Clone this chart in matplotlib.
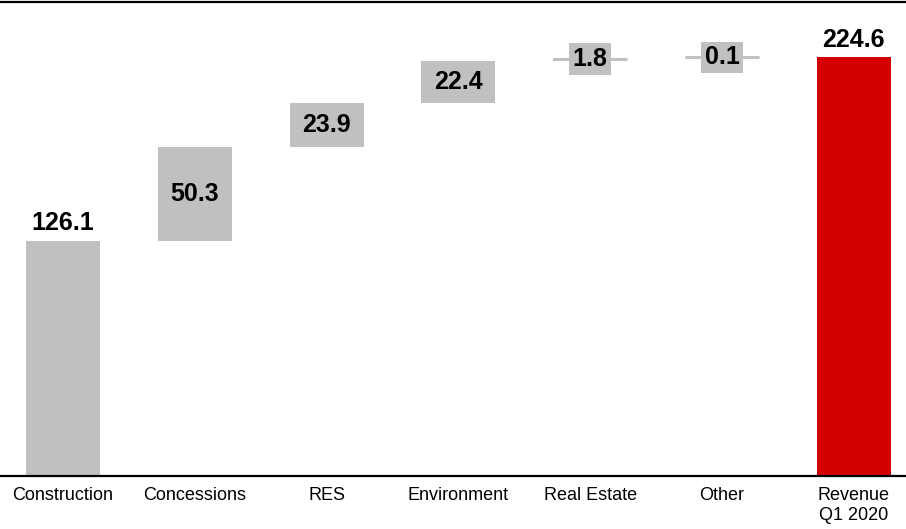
import matplotlib
matplotlib.use("Agg")
import matplotlib.pyplot as plt

categories = ["Construction", "Concessions", "RES", "Environment", "Real Estate", "Other", "Revenue\nQ1 2020"]
values = [126.1, 50.3, 23.9, 22.4, 1.8, 0.1, 224.6]
labels = ["126.1", "50.3", "23.9", "22.4", "1.8", "0.1", "224.6"]

GRAY = "#C0C0C0"
RED = "#D40000"

plt.rcParams["font.family"] = ["Liberation Sans", "DejaVu Sans"]

fig = plt.figure(figsize=(9.06, 5.29), dpi=100)
ax = fig.add_axes([0, 53 / 529, 1, 474 / 529])

x = list(range(len(categories)))
width = 0.56

# running base for the waterfall steps
bottoms = []
running = 0.0
for i, v in enumerate(values):
    if i == 0 or i == len(values) - 1:
        bottoms.append(0.0)
        running = v if i == 0 else running
    else:
        bottoms.append(running)
        running += v

colors = [GRAY] * (len(values) - 1) + [RED]
ax.bar(x, values, width=width, bottom=bottoms, color=colors, edgecolor="none")

for i, (v, b, lab) in enumerate(zip(values, bottoms, labels)):
    if i == 0 or i == len(values) - 1:
        ax.annotate(lab, (x[i], b + v), xytext=(0, 4), textcoords="offset points",
                    ha="center", va="bottom", fontsize=18, fontweight="bold")
    elif v > 10:
        ax.text(x[i], b + v / 2, lab, ha="center", va="center",
                fontsize=18, fontweight="bold")
    else:
        mid = b + v / 2
        ax.hlines(mid, x[i] - width / 2, x[i] + width / 2, color=GRAY, lw=2.2, zorder=2)
        ax.text(x[i], mid, lab, ha="center", va="center", fontsize=18, fontweight="bold",
                zorder=3, bbox=dict(boxstyle="square,pad=0.15", fc=GRAY, ec="none"))

ax.set_xlim(-63 / 131.8, (906 - 63) / 131.8)
ax.set_ylim(0, 254.3)
ax.set_xticks(x)
ax.set_xticklabels(categories, fontsize=13, linespacing=1.25, va="top")
ax.tick_params(axis="x", length=0, pad=8)
ax.set_yticks([])
for side in ["left", "right"]:
    ax.spines[side].set_visible(False)
ax.spines["bottom"].set_linewidth(1.6)
ax.spines["top"].set_linewidth(1.6)

fig.savefig("out.png", dpi=100)
